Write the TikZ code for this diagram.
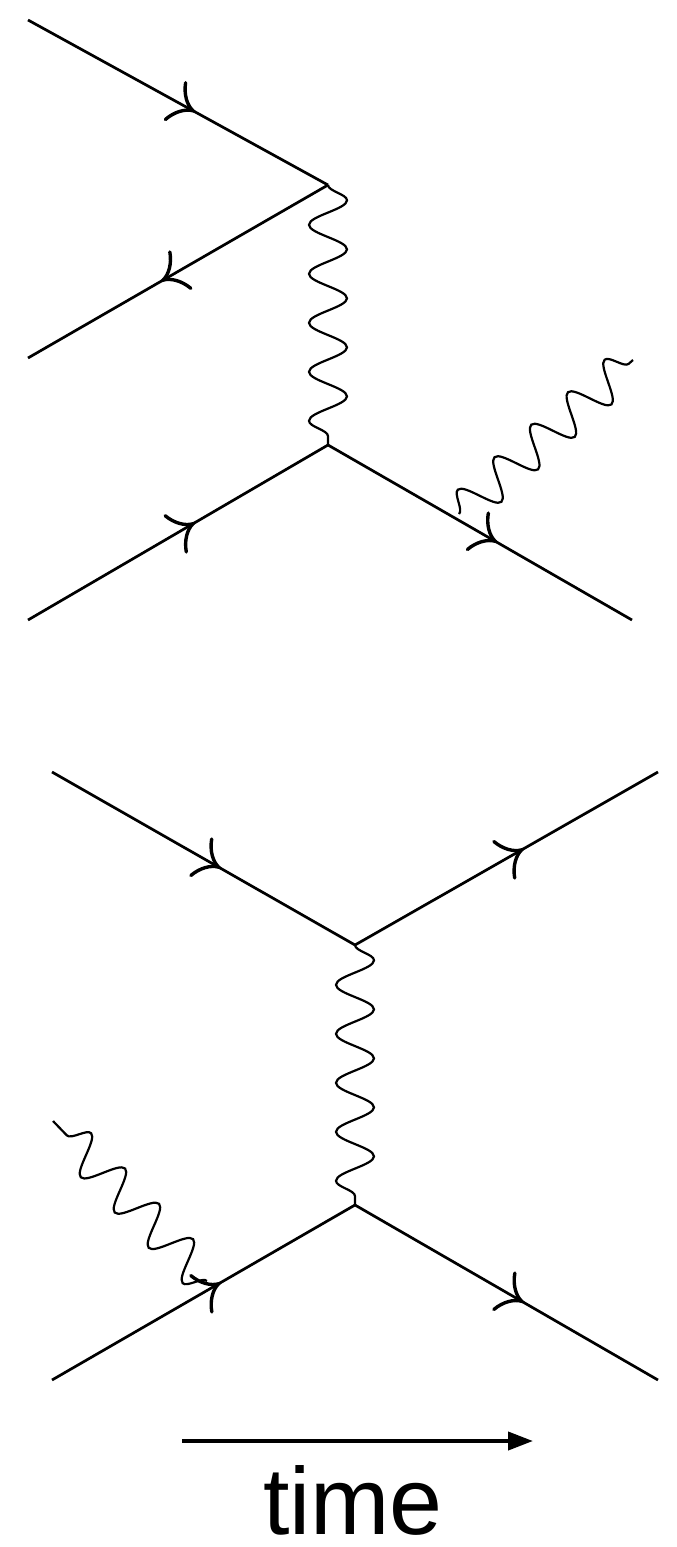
\documentclass[tikz,border=0pt]{standalone}
\usepackage{fontspec}
\setmainfont{Liberation Sans}
\usetikzlibrary{arrows.meta,decorations.pathmorphing,decorations.markings}
\begin{document}
\begin{tikzpicture}[x=0.5pt,y=-0.5pt,
  fermion/.style={line width=1.35pt,
    postaction={decorate},
    decoration={markings,mark=at position 0.55 with {\draw[line width=1.7pt,line cap=round]
      (-10pt,10.5pt) .. controls (-8pt,5pt) and (-4pt,1pt) .. (0pt,0pt)
      .. controls (-4pt,-1pt) and (-8pt,-5pt) .. (-10pt,-10.5pt);}}},
  photon/.style={line width=1.1pt,decorate,
    decoration={snake,segment length=24.5pt,amplitude=9.5pt}},
  timearrow/.style={line width=2pt,-{Triangle[length=12.5pt,width=9pt]}}]
\useasboundingbox (0,0) rectangle (676,1547);
% top diagram
\coordinate (a1) at (28,20);
\coordinate (a2) at (28,358);
\coordinate (a3) at (28,620);
\coordinate (a4) at (632,620);
\coordinate (va) at (328,185);
\coordinate (vb) at (328,445);
\coordinate (ga) at (459,514);
\coordinate (gb) at (633,360);
\draw[fermion] (a1) -- (va);
\draw[fermion] (va) -- (a2);
\draw[fermion] (a3) -- (vb);
\draw[fermion] (vb) -- (a4);
\draw[photon] (va) -- (vb);
\draw[photon] (ga) -- (gb);
% bottom diagram
\coordinate (b1) at (52,772);
\coordinate (b2) at (658,772);
\coordinate (b3) at (52,1380);
\coordinate (b4) at (658,1380);
\coordinate (vc) at (355,945);
\coordinate (vd) at (355,1205);
\coordinate (gc) at (53,1121);
\coordinate (gd) at (207,1281);
\draw[fermion] (b1) -- (vc);
\draw[fermion] (vc) -- (b2);
\draw[fermion] (b3) -- (vd);
\draw[fermion] (vd) -- (b4);
\draw[photon] (vc) -- (vd);
\draw[photon] (gd) -- (gc);
% time axis
\coordinate (t0) at (182,1441);
\coordinate (t1) at (533,1441);
\draw[timearrow] (t0) -- (t1);
\node[anchor=base,inner sep=0pt,font=\fontsize{47.6}{50}\selectfont] (tl) at (353,1534) {time};
\end{tikzpicture}
\end{document}
